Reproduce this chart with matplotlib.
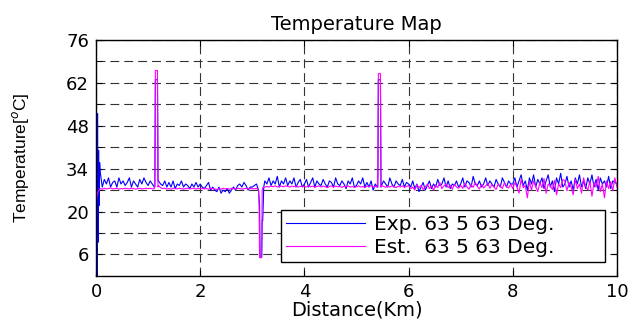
import numpy as np
import matplotlib
matplotlib.use('Agg')
import matplotlib.pyplot as plt
from matplotlib.ticker import MultipleLocator, FixedLocator

plt.rcParams['font.family'] = ['DejaVu Sans']

# Base sampling of the two traces (km), 25 samples per km
dist_km = np.round(np.arange(0, 10.0001, 0.04), 2)

# Experimental temperature (blue), one row per km
exp_temp = [
    24, 10, 33, 28, 30.5, 29, 31, 28, 29.5, 30, 28, 31, 29, 30, 28.5, 29.5, 31, 28, 30, 29, 28, 30.5, 29, 31, 29.5,
    28.5, 30, 29, 28, 63, 30, 29, 28.5, 30, 28, 29.5, 28, 30, 27.5, 29, 28.5, 30, 28, 29, 28.5, 27.5, 29, 28, 29.5, 28,
    29, 28, 27.5, 28.5, 29.5, 27, 28, 27, 26.5, 28, 26, 27, 26.5, 27.5, 26, 27, 28, 27, 28.5, 29, 28, 29.5, 28.5, 27, 28,
    28, 28.5, 29, 27, 5, 17, 30, 29, 31, 28.5, 30, 29, 31.5, 28, 30, 29, 31, 28.5, 30, 29, 31, 28, 29.5, 30.5, 28,
    29, 30.5, 28, 29.5, 31, 28, 30, 29, 28.5, 30.5, 29, 28, 30, 29.5, 28, 31, 29, 28.5, 30, 29, 27.5, 30, 29, 31, 28,
    28.5, 30, 29, 31, 28, 29.5, 28, 30, 27, 29, 28, 63, 28.5, 30, 29, 28, 31, 29, 28, 30, 29, 28.5, 30.5, 28, 29.5,
    29, 28, 30, 27.5, 29, 26.5, 28, 29.5, 27, 28.5, 30, 27.5, 29, 28, 30.5, 28.5, 29, 31, 28, 30, 27.5, 29, 28.5, 30, 28,
    29, 31, 28, 30, 29.5, 28, 31.5, 29, 28.5, 30, 28, 29, 31, 28.5, 30, 29, 28, 30.5, 29, 28, 31, 29.5, 28, 30, 29,
    29, 31, 28, 30, 32, 28.5, 30, 27, 31, 29, 32, 28, 30.5, 29, 31, 27.5, 30, 32, 28, 30, 26.5, 31, 29, 32.5, 28,
    29, 31.5, 28, 30, 27, 31, 29, 32, 28, 30, 27.5, 31, 29, 32, 28, 30.5, 27, 31, 29, 30, 28, 31.5, 27.5, 30, 29.5,
    29,
]

# Estimated temperature (magenta)
est_temp = [
    23, 26.5, 27.5, 27.3, 27.6, 27.4, 27.5, 27.7, 27.4, 27.5, 27.6, 27.3, 27.5, 27.4, 27.6, 27.5, 27.4, 27.6, 27.5, 27.3, 27.5, 27.6, 27.4, 27.5, 27.6,
    27.5, 27.6, 27.4, 27.5, 66, 28.5, 27.8, 27.5, 27.6, 27.4, 27.5, 27.3, 27.6, 27.5, 27.4, 27.6, 27.5, 27.3, 27.5, 27.6, 27.4, 27.5, 27.6, 27.4, 27.5,
    27.5, 27.6, 27.4, 27.5, 27.3, 27.6, 27.5, 27.4, 27.2, 27.5, 27.3, 27.6, 27.4, 27.5, 27.3, 27.6, 27.5, 27.4, 27.6, 27.5, 27.3, 27.5, 27.6, 27.4, 27.5,
    27.5, 27.4, 27.6, 27, 5, 27.8, 28, 28.2, 28, 28.3, 28.1, 28.4, 28, 28.2, 28.3, 28.1, 28.4, 28.2, 28, 28.3, 28.1, 28.4, 28, 28.2, 28.3,
    28.2, 28, 28.4, 28.1, 28.3, 27.9, 28.2, 28.4, 28, 28.3, 28.1, 27.8, 28.2, 28.4, 28, 28.3, 28.1, 28.2, 27.9, 28.3, 28.1, 28.4, 28, 28.2, 27.9,
    28.1, 28.4, 28, 28.2, 27.8, 28.3, 28.1, 28.5, 28, 28.2, 28, 65, 28.5, 28.2, 27.9, 28.3, 28, 28.4, 28.1, 27.8, 28.3, 28, 28.4, 27.9, 28.2,
    28.5, 27.5, 28, 27, 28.8, 27.8, 28.5, 27.2, 28, 29, 27.5, 28.3, 27, 28.7, 27.8, 29.5, 27.5, 28.4, 29, 27.8, 28.6, 27.3, 28.9, 28, 27.6,
    28.5, 27.6, 29.2, 28, 27.3, 28.8, 27.9, 29.5, 28.2, 27.4, 28.9, 27.7, 28.4, 29.3, 27.6, 28.8, 28, 27.2, 29, 28.3, 27.5, 29.4, 28.1, 27.7, 28.9,
    27.5, 29.5, 28, 26, 30.5, 27.8, 28.5, 24.5, 29.8, 27, 30, 28.2, 26.5, 29.5, 27.8, 30.8, 26, 29, 28.5, 27.2, 30.2, 25.5, 29, 27.8, 30.5,
    30, 26.8, 29.5, 28, 25.5, 30.5, 27.5, 29, 26, 31, 28.2, 27, 30, 25, 29.5, 28, 31.5, 26.5, 29, 24.5, 30, 27.5, 29.8, 26.8, 31,
    28,
]

# Extra samples around the hot spots / cold spot
exp_evt_km = [0.01, 0.02, 0.03, 0.05, 0.06, 0.07, 1.13, 1.14, 1.18, 1.19,
              3.14, 3.15, 3.18, 3.19, 3.22, 5.41, 5.42, 5.46, 5.47]
exp_evt_temp = [20, -1, 52, 40, 22, 36, 28, 63, 63, 30,
                22, 5, 5, 17, 28, 28, 63, 63, 28]
est_evt_km = [0.02, 1.13, 1.14, 1.18, 1.19, 3.13, 3.14, 3.18, 3.19, 5.41, 5.42, 5.46, 5.47]
est_evt_temp = [25, 30, 66, 66, 28, 22, 5, 5, 27, 32, 65, 65, 28]

assert len(exp_temp) == len(dist_km) == len(est_temp), (len(exp_temp), len(est_temp), len(dist_km))


def merge(x, y, ex, ey):
    xs = np.concatenate([x, ex])
    ys = np.concatenate([y, ey])
    order = np.argsort(xs, kind='stable')
    return xs[order], ys[order]


x_exp, y_exp = merge(dist_km, exp_temp, exp_evt_km, exp_evt_temp)
x_est, y_est = merge(dist_km, est_temp, est_evt_km, est_evt_temp)

fig = plt.figure(figsize=(6.4, 3.22), dpi=100)
ax = fig.add_axes([0.15, 0.143, 0.814, 0.733])

ax.plot(x_exp, y_exp, color='#0000ff', lw=0.8, label='Exp. 63 5 63 Deg.')
ax.plot(x_est, y_est, color='#ff00ff', lw=0.8, label='Est.  63 5 63 Deg.')

ax.set_xlim(0, 10)
ax.set_ylim(-1, 76)
ax.xaxis.set_major_locator(MultipleLocator(2))
ax.yaxis.set_major_locator(FixedLocator([6, 20, 34, 48, 62, 76]))
ax.yaxis.set_minor_locator(FixedLocator([13, 27, 41, 55, 69]))
ax.grid(True, which='both', color='#333333', linestyle=(0, (8, 4.5)), linewidth=0.8)
ax.tick_params(which='both', direction='in', length=4, labelsize=13, top=True, right=True, pad=5)
for s in ax.spines.values():
    s.set_linewidth(1.0)

ax.set_title('Temperature Map', fontsize=14, pad=7)
ax.set_xlabel('Distance(Km)', fontsize=14, labelpad=0)
ax.set_ylabel('Temperature[$^o$C]', fontsize=12.5, family='Liberation Sans')
ax.yaxis.set_label_coords(-0.125, 0.5)

leg = ax.legend(loc='lower left', bbox_to_anchor=(281 / 640, 60 / 322, 324 / 640, 56 / 322),
                bbox_transform=fig.transFigure, mode='expand',
                fontsize=14.5, fancybox=False, framealpha=1, edgecolor='black', borderaxespad=0,
                handlelength=3.9, borderpad=0.25, labelspacing=0.2, handletextpad=0.45)
leg.get_frame().set_linewidth(1.0)

fig.savefig('out.png', dpi=100)
